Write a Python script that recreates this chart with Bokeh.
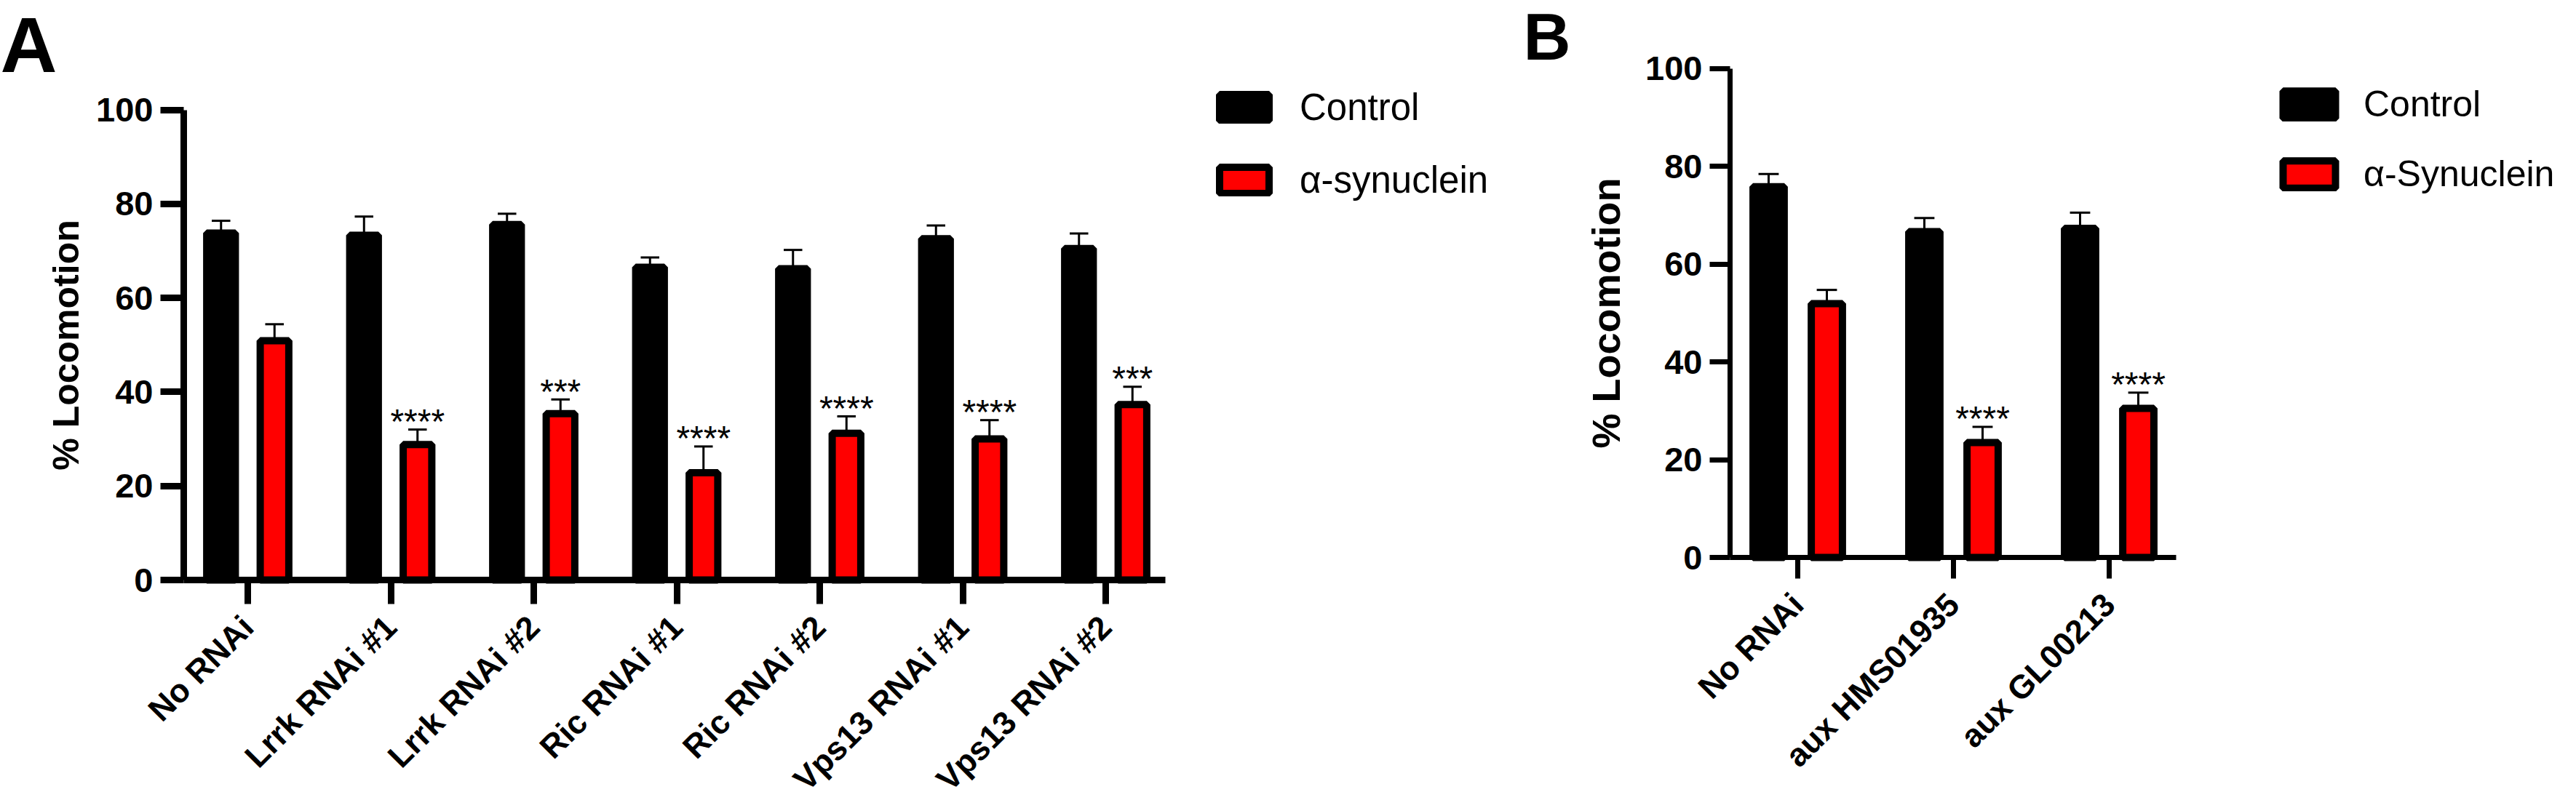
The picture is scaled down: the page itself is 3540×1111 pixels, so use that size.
import math
from bokeh.plotting import figure
from bokeh.models import Range1d, FixedTicker, Legend, LegendItem, ColumnDataSource
from bokeh.layouts import row
from bokeh.core.properties import value
from bokeh.embed import file_html
from bokeh.resources import INLINE

FONT = "Liberation Sans"

# ---------------- Panel A data ----------------
cats_a = ["No RNAi", "Lrrk RNAi #1", "Lrrk RNAi #2", "Ric RNAi #1",
          "Ric RNAi #2", "Vps13 RNAi #1", "Vps13 RNAi #2"]
ctrl_a = [73.8, 73.3, 75.6, 66.5, 66.2, 72.6, 70.5]
ctrl_a_sem = [2.6, 4.0, 2.3, 2.1, 4.0, 2.8, 3.2]
syn_a = [50.9, 28.8, 35.4, 22.8, 31.2, 30.0, 37.3]
syn_a_sem = [3.5, 3.2, 3.0, 5.6, 3.6, 4.0, 3.8]
stars_a = ["", "****", "***", "****", "****", "****", "***"]
legend_a = ["Control", "α-synuclein"]

# ---------------- Panel B data ----------------
cats_b = ["No RNAi", "aux HMS01935", "aux GL00213"]
ctrl_b = [75.8, 66.6, 67.3]
ctrl_b_sem = [2.6, 2.8, 3.2]
syn_b = [51.9, 23.5, 30.5]
syn_b_sem = [2.8, 3.2, 3.2]
stars_b = ["", "****", "****"]
legend_b = ["Control", "α-Synuclein"]

yticks = [0, 20, 40, 60, 80, 100]
ylabel = "% Locomotion"


def make_panel(cats, ctrl, ctrl_sem, syn, syn_sem, stars, leg_labels, letter, c):
    n = len(cats)
    idx = list(range(n))
    W, H = c["width"], c["height"]
    xppu, yppu = c["xppu"], c["yppu"]

    def dx(px):  # canvas pixel -> data x
        return (px - c["cx0"]) / xppu

    def dy(py):  # canvas pixel -> data y
        return (c["cy0"] - py) / yppu

    # the frame is the whole canvas; axes are drawn inside it at fixed locations
    p = figure(width=W, height=H, output_backend="svg", toolbar_location=None,
               x_range=Range1d(dx(0), dx(W)), y_range=Range1d(dy(H), dy(0)),
               min_border_left=0, min_border_right=0, min_border_top=0, min_border_bottom=0)
    p.title.visible = False
    p.outline_line_color = None
    p.xgrid.visible = False
    p.ygrid.visible = False
    p.background_fill_color = "white"
    p.border_fill_color = "white"

    off, w, cw = 0.187, 0.2, 0.13
    xc = [i - off for i in idx]
    xs = [i + off for i in idx]
    err_c = [m + s for m, s in zip(ctrl, ctrl_sem)]
    err_s = [m + s for m, s in zip(syn, syn_sem)]

    src_c = ColumnDataSource(dict(x=xc, top=ctrl, err=err_c,
                                  xl=[x - cw / 2 for x in xc], xr=[x + cw / 2 for x in xc]))
    src_s = ColumnDataSource(dict(x=xs, top=syn, err=err_s,
                                  xl=[x - cw / 2 for x in xs], xr=[x + cw / 2 for x in xs]))

    rc = p.vbar(x="x", top="top", bottom=0, width=w, source=src_c,
                fill_color="black", line_color="black", line_width=10)
    rs = p.vbar(x="x", top="top", bottom=0, width=w, source=src_s,
                fill_color="#ff0000", line_color="black", line_width=10)
    for src in (src_c, src_s):
        p.segment(x0="x", y0="top", x1="x", y1="err", source=src,
                  line_color="black", line_width=3)
        p.segment(x0="xl", y0="err", x1="xr", y1="err", source=src,
                  line_color="black", line_width=3)

    p.text(x=xs, y=err_s, text=stars, text_align="center", text_baseline="alphabetic",
           text_font=value(FONT), text_font_size="48px", text_color="black", y_offset=-11)

    # panel letter
    p.text(x=[dx(c["letx"])], y=[dy(c["lety"])], text=[letter], text_align="left",
           text_baseline="alphabetic", text_font=value(FONT), text_font_style="bold",
           text_font_size=c["letfs"], text_color="black")

    yaxis_x = dx(c["axx"])

    xa = p.xaxis[0]
    xa.fixed_location = 0
    xa.bounds = (yaxis_x, c["xend"])
    xa.ticker = FixedTicker(ticks=idx, minor_ticks=[])
    xa.major_label_overrides = {i: cats[i] for i in idx}
    xa.major_label_orientation = math.pi / 4
    xa.axis_line_width = c["alw"]
    xa.major_tick_line_width = c["tlw"]
    xa.major_tick_out = c["xtick"]
    xa.major_tick_in = 0
    xa.minor_tick_line_color = None
    xa.major_label_standoff = c["xstand"]
    xa.major_label_text_font = FONT
    xa.major_label_text_font_style = "bold"
    xa.major_label_text_font_size = "45px"
    xa.major_label_text_color = "black"

    ya = p.yaxis[0]
    ya.fixed_location = yaxis_x
    ya.ticker = FixedTicker(ticks=yticks, minor_ticks=[])
    ya.bounds = (0, 100)
    ya.axis_line_width = c["alw"]
    ya.major_tick_line_width = c["tlw"]
    ya.major_tick_out = c["ytick"]
    ya.major_tick_in = 0
    ya.minor_tick_line_color = None
    ya.major_label_standoff = 10
    ya.major_label_text_font = FONT
    ya.major_label_text_font_style = "bold"
    ya.major_label_text_font_size = "47px"
    ya.major_label_text_color = "black"
    ya.axis_label = ylabel
    ya.axis_label_text_font = FONT
    ya.axis_label_text_font_style = "bold"
    ya.axis_label_text_font_size = c["ylfs"]
    ya.axis_label_text_color = "black"
    ya.axis_label_standoff = c["ylstand"]

    leg = Legend(items=[LegendItem(label=leg_labels[0], renderers=[rc]),
                        LegendItem(label=leg_labels[1], renderers=[rs])],
                 location=c["legloc"], glyph_width=c["gw"], glyph_height=c["gh"],
                 label_height=c["gh"], spacing=c["gsp"], padding=0, margin=0,
                 label_standoff=c["lstand"], border_line_color=None,
                 background_fill_alpha=0, label_text_font=FONT,
                 label_text_font_size=c["lfs"], label_text_color="black")
    p.add_layout(leg)
    return p


# pixel anchors in canvas coordinates: cx0 = first category, cy0 = value 0
cfg_a = dict(width=2044, height=1100, cx0=340, cy0=797, xppu=196.5, yppu=6.465,
             axx=252, xend=6.415,
             alw=9, tlw=9, xtick=33, ytick=32, xstand=24,
             ylfs="50px", ylstand=10,
             legloc=(1667, 823), gw=85, gh=45, gsp=41, lstand=34, lfs="51px",
             letx=0, lety=61, letfs="108px")
cfg_b = dict(width=1480, height=1100, cx0=426, cy0=766, xppu=214, yppu=6.725,
             axx=333, xend=2.43,
             alw=7, tlw=7, xtick=29, ytick=28, xstand=28,
             ylfs="54px", ylstand=21,
             legloc=(1084, 832), gw=90, gh=47, gsp=38, lstand=30, lfs="50px",
             letx=49, lety=50, letfs="90px")

pa = make_panel(cats_a, ctrl_a, ctrl_a_sem, syn_a, syn_a_sem, stars_a, legend_a, "A", cfg_a)
pb = make_panel(cats_b, ctrl_b, ctrl_b_sem, syn_b, syn_b_sem, stars_b, legend_b, "B", cfg_b)

layout = row(pa, pb)
open("out.html", "w").write(file_html(layout, INLINE))
